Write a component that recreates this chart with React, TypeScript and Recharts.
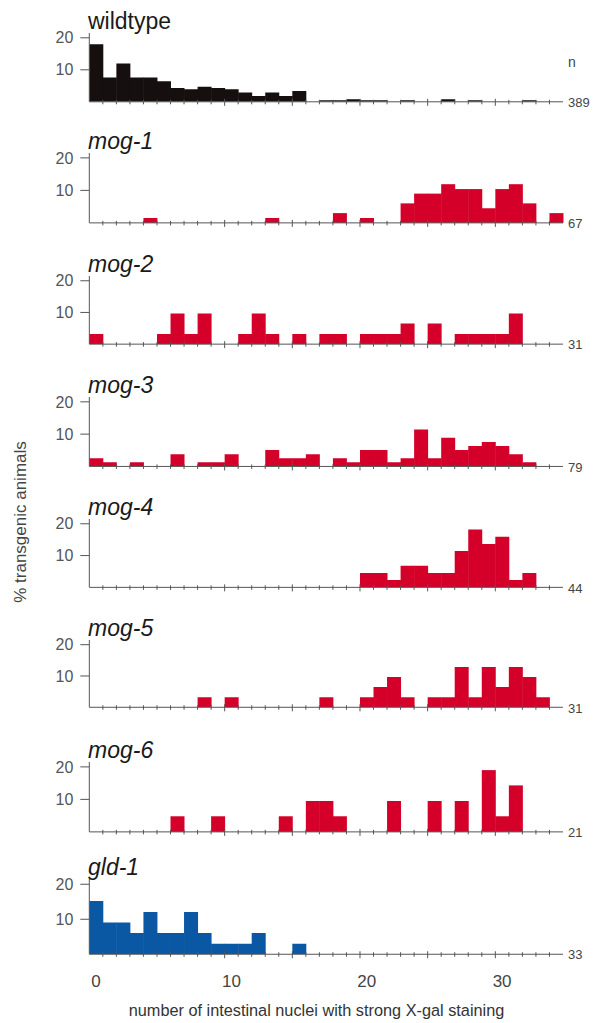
import { BarChart, Bar, XAxis, YAxis } from 'recharts';

// bins = number of intestinal nuclei with strong X-gal staining
const bins = [
  0, 1, 2, 3, 4, 5, 6, 7, 8, 9, 10, 11, 12, 13, 14, 15, 16, 17,
  18, 19, 20, 21, 22, 23, 24, 25, 26, 27, 28, 29, 30, 31, 32, 33, 34
];

// % transgenic animals per bin
const wildtype = [18, 7.6, 12, 7.6, 7.6, 6.4, 4.3, 3.9, 4.7, 4.3, 3.9, 2.9, 1.8, 2.9, 1.8, 3.4, 0, 0.5, 0.5, 0.8, 0.5, 0.5, 0, 0.5, 0, 0, 0.8, 0, 0.5, 0, 0, 0, 0.5, 0, 0];
const mog1 = [0, 0, 0, 0, 1.5, 0, 0, 0, 0, 0, 0, 0, 0, 1.5, 0, 0, 0, 0, 3, 0, 1.5, 0, 0, 6, 9, 9, 11.9, 10.4, 10.4, 4.5, 10.4, 11.9, 6, 0, 3];
const mog2 = [3.2, 0, 0, 0, 0, 3.2, 9.7, 3.2, 9.7, 0, 0, 3.2, 9.7, 3.2, 0, 3.2, 0, 3.2, 3.2, 0, 3.2, 3.2, 3.2, 6.5, 0, 6.5, 0, 3.2, 3.2, 3.2, 3.2, 9.7, 0, 0, 0];
const mog3 = [2.5, 1.3, 0, 1.3, 0, 0, 3.8, 0, 1.3, 1.3, 3.8, 0, 0, 5.1, 2.5, 2.5, 3.8, 0, 2.5, 1.3, 5.1, 5.1, 1.3, 2.5, 11.4, 2.5, 8.9, 5.1, 6.3, 7.6, 6.3, 3.8, 1.3, 0, 0];
const mog4 = [0, 0, 0, 0, 0, 0, 0, 0, 0, 0, 0, 0, 0, 0, 0, 0, 0, 0, 0, 0, 4.5, 4.5, 2.3, 6.8, 6.8, 4.5, 4.5, 11.4, 18.2, 13.6, 15.9, 2.3, 4.5, 0, 0];
const mog5 = [0, 0, 0, 0, 0, 0, 0, 0, 3.2, 0, 3.2, 0, 0, 0, 0, 0, 0, 3.2, 0, 0, 3.2, 6.5, 9.7, 3.2, 0, 3.2, 3.2, 12.9, 3.2, 12.9, 6.5, 12.9, 9.7, 3.2, 0];
const mog6 = [0, 0, 0, 0, 0, 0, 4.8, 0, 0, 4.8, 0, 0, 0, 0, 4.8, 0, 9.5, 9.5, 4.8, 0, 0, 0, 9.5, 0, 0, 9.5, 0, 9.5, 0, 19, 4.8, 14.3, 0, 0, 0];
const gld1 = [15.2, 9.1, 9.1, 6.1, 12.1, 6.1, 6.1, 12.1, 6.1, 3, 3, 3, 6.1, 0, 0, 3, 0, 0, 0, 0, 0, 0, 0, 0, 0, 0, 0, 0, 0, 0, 0, 0, 0, 0, 0];

const strains = ['wildtype', 'mog-1', 'mog-2', 'mog-3', 'mog-4', 'mog-5', 'mog-6', 'gld-1'];
const counts = ['389', '67', '31', '79', '44', '31', '21', '33'];
const series = [wildtype, mog1, mog2, mog3, mog4, mog5, mog6, gld1];

const yTicks = [10, 20];
const xLabels = [0, 10, 20, 30];
const edgeTicks = bins.slice(1).map((b) => b - 0.5);
const majorEdges = [9.5, 14.5, 19.5, 24.5, 29.5];

// layout: axis baseline (px) and px per 10 % for each panel
const baselines = [101.7, 223.3, 344.3, 466.7, 587.7, 707.5, 831.7, 954.3];
const scales = [32, 32.5, 31.7, 32.3, 31.8, 31.3, 32.5, 35];

const BLACK = '#150f0f';
const RED = '#d4002a';
const BLUE = '#0a58a3';
const barColors = [BLACK, RED, RED, RED, RED, RED, RED, BLUE];

const AXIS = '#555';
const FONT = '"Liberation Sans", Arial, sans-serif';
const Y_MAX = 21.5;
const PLOT_LEFT = 89.3;
const PLOT_RIGHT = 52;
const TOP_PAD = 12;

const EdgeTick = (props: any) => {
  const { x, y, payload, showLabels } = props;
  const v = payload.value;
  if (Number.isInteger(v)) {
    if (!showLabels) return null;
    return (
      <text x={x} y={y + 33} textAnchor="middle" fontSize={17} fill="#444" fontFamily={FONT}>
        {v}
      </text>
    );
  }
  const major = majorEdges.includes(v);
  return (
    <line x1={x} x2={x} y1={y - (major ? 3 : 2)} y2={y + (major ? 4 : 2.5)} stroke={AXIS} strokeWidth={1} />
  );
};

function Panel({ idx }: { idx: number }) {
  const last = idx === strains.length - 1;
  const h = (scales[idx] * Y_MAX) / 10;
  const xH = last ? 45 : 8;
  const top = baselines[idx] - h - TOP_PAD;
  const data = bins.map((b, i) => ({ bin: b, pct: series[idx][i] }));
  const ticks = last ? [...edgeTicks, ...xLabels].sort((a, b) => a - b) : edgeTicks;

  return (
    <div style={{ position: 'absolute', left: 0, top }}>
      <BarChart
        width={615}
        height={TOP_PAD + h + xH}
        data={data}
        margin={{ top: TOP_PAD, right: PLOT_RIGHT, bottom: 0, left: PLOT_LEFT - 40 }}
        barCategoryGap={0}
        barGap={0}
      >
        <XAxis
          xAxisId="edges"
          dataKey="bin"
          type="number"
          domain={[-0.5, 34.5]}
          allowDataOverflow
          ticks={ticks}
          interval={0}
          height={xH}
          tickSize={0}
          tickMargin={0}
          tickLine={false}
          axisLine={{ stroke: AXIS, strokeWidth: 1 }}
          tick={<EdgeTick showLabels={last} />}
        />
        <XAxis xAxisId="bins" dataKey="bin" type="category" height={0} hide />
        <YAxis
          type="number"
          domain={[0, Y_MAX]}
          allowDataOverflow
          ticks={yTicks}
          width={40}
          tickSize={9}
          tickMargin={7}
          axisLine={{ stroke: AXIS, strokeWidth: 1 }}
          tickLine={{ stroke: AXIS, strokeWidth: 1 }}
          tick={{ fontSize: 16, fill: '#555', fontFamily: FONT }}
        />
        <Bar xAxisId="bins" dataKey="pct" fill={barColors[idx]} isAnimationActive={false} />
      </BarChart>
    </div>
  );
}

export default function App() {
  return (
    <div
      style={{
        position: 'absolute',
        left: 0,
        top: 0,
        width: 615,
        height: 1023,
        background: '#fff',
        fontFamily: FONT,
        overflow: 'hidden'
      }}
    >
      {strains.map((s, i) => (
        <Panel key={s} idx={i} />
      ))}
      <svg
        width={615}
        height={1023}
        style={{ position: 'absolute', left: 0, top: 0, pointerEvents: 'none' }}
        fontFamily={FONT}
      >
        {strains.map((s, i) => (
          <text
            key={s}
            x={88}
            y={baselines[i] - (scales[i] * 2) - 9}
            fontSize={23}
            fontStyle={i === 0 ? 'normal' : 'italic'}
            fill="#1a1a1a"
          >
            {s}
          </text>
        ))}
        <text x={568} y={67} fontSize={14} fill="#444">n</text>
        {counts.map((c, i) => (
          <text key={i} x={568} y={baselines[i] + 5} fontSize={13} fill="#444">
            {c}
          </text>
        ))}
        <text
          x={26}
          y={522}
          transform="rotate(-90 26 522)"
          textAnchor="middle"
          fontSize={17}
          fill="#444"
        >
          % transgenic animals
        </text>
        <text x={316.5} y={1016} textAnchor="middle" fontSize={16.3} fill="#333">
          number of intestinal nuclei with strong X-gal staining
        </text>
      </svg>
    </div>
  );
}
